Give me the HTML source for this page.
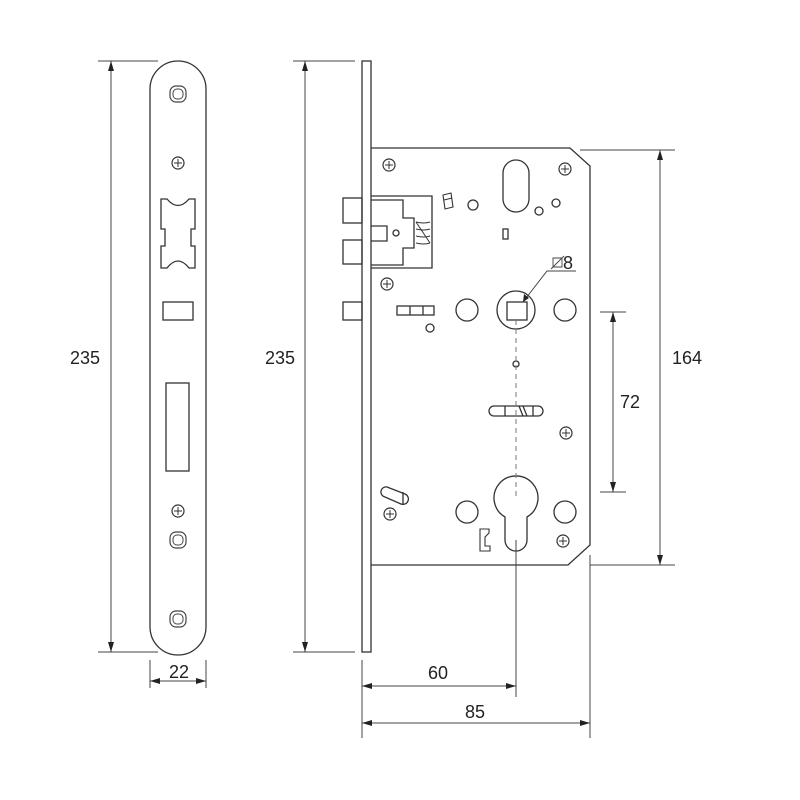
<!DOCTYPE html>
<html><head><style>
html,body{margin:0;padding:0;background:#fff;width:800px;height:800px;overflow:hidden}
svg{display:block}
text{font-family:"Liberation Sans",sans-serif;fill:#222}
</style></head><body>
<svg width="800" height="800" viewBox="0 0 800 800" xmlns="http://www.w3.org/2000/svg">
<defs>
<marker id="a" viewBox="0 0 10 6" refX="10" refY="3" markerWidth="10" markerHeight="6" orient="auto-start-reverse" markerUnits="userSpaceOnUse"><path d="M0,0 L10,3 L0,6 z" fill="#222"/></marker>
<g id="scr"><circle r="6" fill="none" stroke="#333" stroke-width="1.2"/><path d="M-4,0H4M0,-4V4" stroke="#333" stroke-width="1"/></g>
<g id="ring"><rect x="-8" y="-8" width="16" height="16" rx="6" fill="none" stroke="#444" stroke-width="1.2"/><rect x="-5" y="-5" width="10" height="10" rx="4" fill="none" stroke="#444" stroke-width="1"/></g>
</defs>
<g fill="none" stroke="#333" stroke-width="1.3">
<!-- front faceplate -->
<path d="M150,89 A28,28 0 0 1 206,89 V627 A28,28 0 0 1 150,627 Z"/>
<use href="#ring" x="178" y="94"/>
<use href="#scr" x="178" y="163"/>
<path d="M161,199 L167,199 Q178,212 189,199 L195,199 V229 L191,229 V246 L195,246 V268 L189,268 Q178,254 167,268 L161,268 V246 L165,246 V229 L161,229 Z"/>
<rect x="163" y="302" width="30" height="18"/>
<rect x="166" y="383" width="23" height="88"/>
<use href="#scr" x="178" y="511"/>
<use href="#ring" x="178" y="540"/>
<use href="#ring" x="178" y="619"/>

<!-- side faceplate -->
<rect x="362" y="61" width="9" height="591"/>
<!-- bolts -->
<rect x="343" y="198" width="19" height="25"/>
<rect x="343" y="240" width="19" height="24"/>
<rect x="343" y="302" width="19" height="18"/>
<!-- body -->
<path d="M371,148 H570 L590,166 V545 L568,565 H371"/>
<use href="#scr" x="389" y="165"/>
<use href="#scr" x="565" y="169"/>
<use href="#scr" x="387" y="284"/>
<!-- latch mechanism -->
<path d="M371,196 H432 V268 H371 M371,200 H403 V218 H414 V248 H403 V265 H371"/>
<path d="M371,226 H387 V241 H371"/>
<circle cx="396" cy="233" r="3"/>
<path d="M416,222 q8,2 14,0 M416,229 q8,2 14,0 M416,236 q8,2 14,0 M416,243 q8,2 14,0 M416,222 L430,243" stroke-width="1"/>
<path d="M443,195 l8,-2 l2,14 l-8,2 z M444,200 l8,-2" stroke-width="1.1"/>
<circle cx="473" cy="205" r="5"/>
<rect x="503" y="160" width="26" height="52" rx="13"/>
<circle cx="539" cy="211" r="4"/>
<circle cx="556" cy="203" r="4"/>
<rect x="503" y="229" width="5" height="10"/>
<rect x="397" y="306" width="37" height="9"/><path d="M410,306V315M423,306V315"/>
<circle cx="430" cy="328" r="4"/>
<circle cx="467" cy="310" r="11"/>
<circle cx="516" cy="310" r="19"/>
<rect x="507" y="302" width="20" height="18"/>
<circle cx="565" cy="310" r="11"/>
<circle cx="516" cy="364" r="3"/>
<rect x="489" y="406" width="54" height="10" rx="5"/><path d="M505,406V416M519,406l4,10M523,406l4,10M533,406V416"/>
<use href="#scr" x="566" y="433"/>
<path d="M387,487 L405,494 A5,5 0 0 1 401,504 L385,497 A5,5 0 0 1 387,487 Z M403,492 V504"/>
<use href="#scr" x="390" y="514"/>
<circle cx="467" cy="512" r="11"/>
<path d="M505,517 A22,22 0 1 1 527,517 V540 A11,11 0 0 1 505,540 Z"/>
<circle cx="565" cy="512" r="11"/>
<use href="#scr" x="563" y="541"/>
<path d="M480,529 h9 v4 l-4,4 v9 h5 v5 h-10 z" stroke-width="1.1"/>
</g>
<!-- center lines -->
<path d="M516,320 V500" stroke="#777" stroke-width="1" stroke-dasharray="5,4" fill="none"/>
<g stroke="#444" stroke-width="1" fill="none">
<path d="M98,61H158M98,652H158"/>
<path d="M111,61V652" marker-start="url(#a)" marker-end="url(#a)"/>
<path d="M293,61H355M293,652H355"/>
<path d="M305,61V652" marker-start="url(#a)" marker-end="url(#a)"/>
<path d="M150,660V688M206,660V688"/>
<path d="M150,681H206" marker-start="url(#a)" marker-end="url(#a)"/>
<path d="M580,150H675M590,565H675"/>
<path d="M660,150V565" marker-start="url(#a)" marker-end="url(#a)"/>
<path d="M600,312H626M600,492H626"/>
<path d="M613,312V492" marker-start="url(#a)" marker-end="url(#a)"/>
<path d="M362,660V738M516,540V697M590,555V738"/>
<path d="M362,686H516" marker-start="url(#a)" marker-end="url(#a)"/>
<path d="M362,723H590" marker-start="url(#a)" marker-end="url(#a)"/>
<path d="M523,302 L547,271 H576"/>
<path d="M553,258 h9 v9 h-9 z M551,269 L564,256" stroke-width="0.9"/>
</g>
<path d="M523,302 l1,-8 l5,4 z" fill="#222"/>
<g font-size="18">
<text x="85" y="364" text-anchor="middle">235</text>
<text x="280" y="364" text-anchor="middle">235</text>
<text x="179" y="678" text-anchor="middle">22</text>
<text x="687" y="364" text-anchor="middle">164</text>
<text x="630" y="408" text-anchor="middle">72</text>
<text x="438" y="679" text-anchor="middle">60</text>
<text x="475" y="718" text-anchor="middle">85</text>
<text x="563" y="269">8</text>
</g>
</svg>
</body></html>
